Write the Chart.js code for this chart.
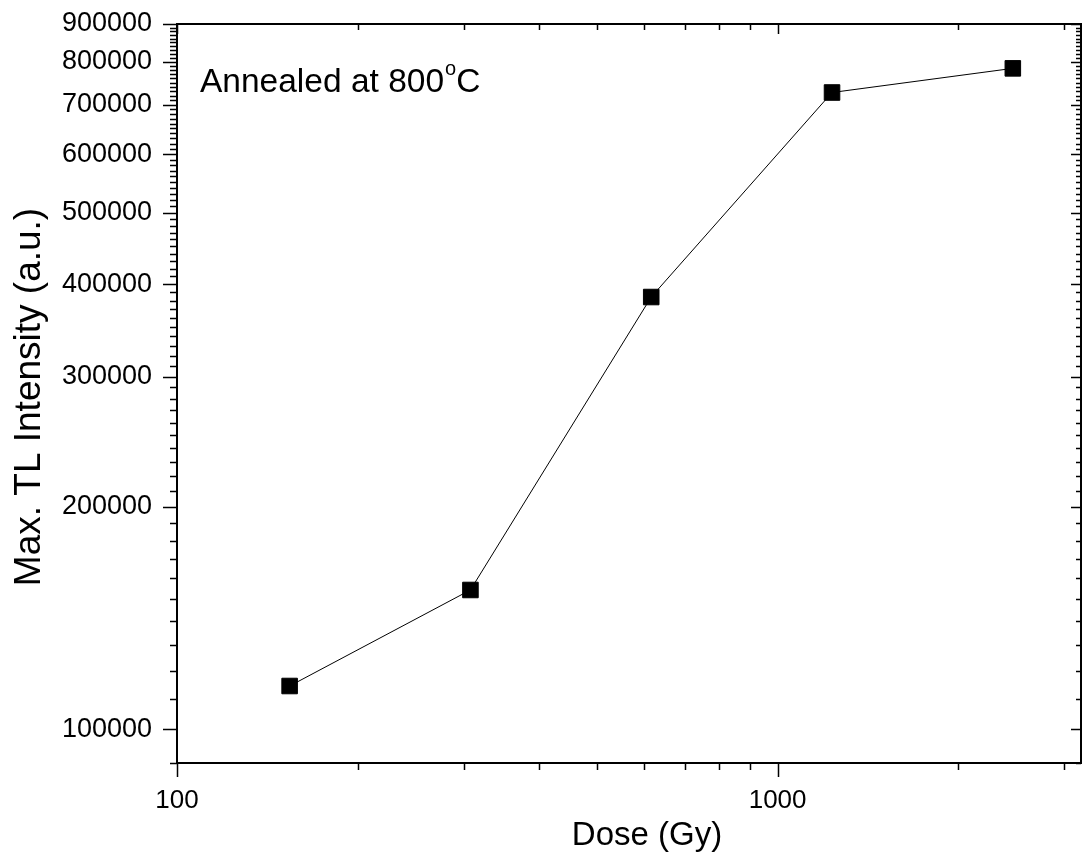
<!DOCTYPE html>
<html>
<head>
<meta charset="utf-8">
<script src="https://cdn.jsdelivr.net/npm/chart.js@4.4.0/dist/chart.umd.min.js"></script>
<style>
  html, body { margin: 0; padding: 0; background: #fff; }
  #wrap { width: 1084px; height: 859px; }
</style>
</head>
<body>
<div id="wrap"><canvas id="chart-dose" width="1084" height="859"></canvas></div>
<script>
const DOSES     = [154, 308, 616, 1232, 2464];
const INTENSITY = [114400, 154300, 384400, 727000, 783800];

const X_TICKS  = [100, 200, 300, 400, 500, 600, 700, 800, 900, 1000, 2000, 3000];
const X_LABELS = [100, 1000];
const X_MIN = 100, X_MAX = 3200;

const Y_MIN = 90000, Y_MAX = 900000, Y_STEP = 10000, Y_LABEL_STEP = 100000;

const FONT = "'Liberation Sans', Arial, sans-serif";

const yTickValues = [];
for (let v = Y_MIN; v <= Y_MAX; v += Y_STEP) yTickValues.push(v);

function noPad(s) {
  s.paddingLeft = 0; s.paddingRight = 0; s.paddingTop = 0; s.paddingBottom = 0;
}

// frame, tick marks, titles and the note are drawn on top of the chart area
const framePlugin = {
  id: 'frame',
  afterDraw(chart) {
    const { ctx, chartArea: a, scales } = chart;
    const xs = scales.x, ys = scales.y;
    ctx.save();
    ctx.strokeStyle = '#000';
    ctx.lineWidth = 2;
    ctx.strokeRect(a.left, a.top, a.right - a.left, a.bottom - a.top);

    ctx.lineWidth = 1.5;
    ctx.beginPath();
    X_TICKS.forEach(v => {
      const px = Math.round(xs.getPixelForValue(v)) + 0.5;
      const major = X_LABELS.includes(v);
      ctx.moveTo(px, a.bottom); ctx.lineTo(px, a.bottom + (major ? 14 : 7));
      ctx.moveTo(px, a.top);    ctx.lineTo(px, a.top + (major ? 10 : 6));
    });
    yTickValues.forEach(v => {
      const py = Math.round(ys.getPixelForValue(v)) + 0.5;
      const major = v % Y_LABEL_STEP === 0;
      ctx.moveTo(a.left, py);  ctx.lineTo(a.left - (major ? 14 : 7), py);
      ctx.moveTo(a.right, py); ctx.lineTo(a.right - (major ? 10 : 5), py);
    });
    ctx.stroke();

    ctx.fillStyle = '#000';
    ctx.textAlign = 'center';
    ctx.textBaseline = 'alphabetic';
    ctx.font = `33px ${FONT}`;
    ctx.fillText('Dose (Gy)', 647, 845);

    ctx.save();
    ctx.translate(40, 397);
    ctx.rotate(-Math.PI / 2);
    ctx.font = `37px ${FONT}`;
    ctx.fillText('Max. TL Intensity (a.u.)', 0, 0);
    ctx.restore();

    ctx.textAlign = 'left';
    ctx.font = `33.5px ${FONT}`;
    const main = 'Annealed at 800';
    ctx.fillText(main, 200, 92);
    let x = 200 + ctx.measureText(main).width + 1;
    ctx.font = `20px ${FONT}`;
    ctx.fillText('o', x, 75);
    x += ctx.measureText('o').width;
    ctx.font = `33.5px ${FONT}`;
    ctx.fillText('C', x, 92);
    ctx.restore();
  }
};

new Chart(document.getElementById('chart-dose').getContext('2d'), {
  type: 'line',
  data: {
    datasets: [{
      data: DOSES.map((d, i) => ({ x: d, y: INTENSITY[i] })),
      borderColor: '#000',
      borderWidth: 1,
      backgroundColor: '#000',
      pointStyle: 'rect',
      pointRadius: 11,
      pointBorderWidth: 1,
      pointBackgroundColor: '#000',
      pointBorderColor: '#000',
      tension: 0,
    }],
  },
  options: {
    responsive: false,
    animation: false,
    layout: { autoPadding: false, padding: { top: 24, right: 3, left: 0, bottom: 0 } },
    plugins: { legend: { display: false }, tooltip: { enabled: false } },
    scales: {
      x: {
        type: 'logarithmic',
        position: 'bottom',
        min: X_MIN, max: X_MAX,
        afterBuildTicks: s => { s.ticks = X_TICKS.map(v => ({ value: v })); },
        afterFit: s => { s.height = 96; noPad(s); },
        // tick marks are drawn by the frame plugin; tickLength only spaces the labels
        grid: { display: false, drawTicks: true, tickLength: 22 },
        border: { display: false },
        ticks: {
          autoSkip: false, maxRotation: 0, padding: 0,
          color: '#000', font: { family: FONT, size: 26 },
          callback: v => X_LABELS.includes(v) ? String(v) : '',
        },
      },
      y: {
        type: 'logarithmic',
        position: 'left',
        min: Y_MIN, max: Y_MAX,
        afterBuildTicks: s => { s.ticks = yTickValues.map(v => ({ value: v })); },
        afterFit: s => { s.width = 177; noPad(s); },
        grid: { display: false, drawTicks: true, tickLength: 25 },
        border: { display: false },
        ticks: {
          autoSkip: false, padding: 0,
          color: '#000', font: { family: FONT, size: 27 },
          callback: v => v % Y_LABEL_STEP === 0 ? String(v) : '',
        },
      },
    },
  },
  plugins: [framePlugin],
});
</script>
</body>
</html>
